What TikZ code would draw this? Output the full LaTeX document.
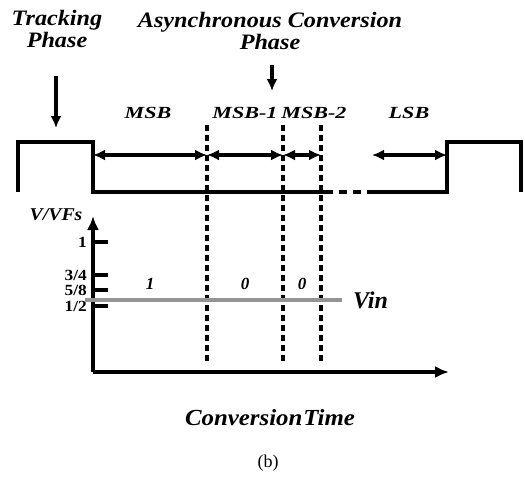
\documentclass[tikz,border=0pt]{standalone}
\usepackage{fontspec}
\setmainfont{Liberation Serif}
\newfontfamily\wideA[FakeStretch=1.1]{Liberation Serif}
\newfontfamily\wideB[FakeStretch=1.3]{Liberation Serif}
\newfontfamily\wideC[FakeStretch=1.08]{Liberation Serif}
\newfontfamily\wideD[FakeStretch=1.12]{Liberation Serif}
\usetikzlibrary{arrows.meta,positioning}
\tikzset{
  ttl/.style  = {font=\wideA\fontsize{22}{22}\selectfont\bfseries\itshape, align=center, inner sep=0pt},
  bitn/.style = {font=\wideB\fontsize{17}{18}\selectfont\bfseries\itshape, inner sep=0pt},
  tick/.style = {font=\wideD\fontsize{15.5}{14}\selectfont\bfseries, anchor=east, inner sep=0pt},
  val/.style  = {font=\fontsize{17}{18}\selectfont\bfseries\itshape, inner sep=0pt},
  wave/.style = {line width=3.4pt},
  ar/.style   = {{Latex[length=12pt,width=11pt]}-{Latex[length=12pt,width=11pt]}, line width=3.2pt},
  dn/.style   = {-{Latex[length=12pt,width=11pt]}, line width=3.2pt},
  ax/.style   = {-{Latex[length=14pt,width=12pt]}, line width=3.4pt},
  sep/.style  = {line width=3.4pt, dash pattern=on 6pt off 4pt},
  vin/.style  = {line width=3.5pt, black!42}
}
\begin{document}
\begin{tikzpicture}[x=1pt,y=-1pt]
  \useasboundingbox (0,0) rectangle (525,477);
  % titles
  \node[ttl] (trk)   at (57,29)  {Tracking\\Phase};
  \node[ttl] (async) at (270,31) {Asynchronous Conversion\\Phase};
  \coordinate (trkA) at (56,76);
  \coordinate (trkB) at (56,128);
  \coordinate (asyA) at (272,65);
  \coordinate (asyB) at (272,91);
  \draw[dn] (trkA) -- (trkB);
  \draw[dn] (asyA) -- (asyB);
  % waveform
  \coordinate (w0) at (18,192);
  \coordinate (w1) at (18,142);
  \coordinate (w2) at (93,142);
  \coordinate (w3) at (93,192);
  \coordinate (w4) at (325,192);
  \coordinate (w5) at (370,192);
  \coordinate (w6) at (447,192);
  \coordinate (w7) at (447,142);
  \coordinate (w8) at (521,142);
  \coordinate (w9) at (521,192);
  \draw[wave] (w0) -- (w1) -- (w2) -- (w3) -- (w4);
  \draw[wave, dash pattern=on 8pt off 6pt] (w4) -- (w5);
  \draw[wave] (w5) -- (w6) -- (w7) -- (w8) -- (w9);
  % bit intervals
  \coordinate (s0) at (93,155);
  \coordinate (s1) at (207,155);
  \coordinate (s2) at (283,155);
  \coordinate (s3) at (321,155);
  \coordinate (s4) at (372,155);
  \coordinate (s5) at (447,155);
  \draw[ar] (s0) -- (s1);
  \draw[ar] (s1) -- (s2);
  \draw[ar] (s2) -- (s3);
  \draw[ar] (s4) -- (s5);
  \node[bitn] (msb)  at (148,113) {MSB};
  \node[bitn] (msb1) at (245,113) {MSB-1};
  \node[bitn] (msb2) at (314,113) {MSB-2};
  \node[bitn] (lsb)  at (409,113) {LSB};
  \foreach \x in {207,283,321}
    \draw[sep] (\x,125) -- (\x,364);
  % axes
  \coordinate (org) at (93,372);
  \coordinate (ytip) at (93,216);
  \coordinate (xtip) at (449,372);
  \draw[ax] (org) -- (ytip);
  \draw[ax] (org) -- (xtip);
  \node[font=\wideA\fontsize{18}{18}\selectfont\bfseries\itshape, inner sep=0pt] (vvfs) at (56,215) {V/VFs};
  \foreach \y/\t in {242/{1}, 275/{3/4}, 290/{5/8}, 306/{1/2}} {
    \draw[line width=3.4pt] (92,\y) -- (108,\y);
    \node[tick] at (87,\y) {\t};
  }
  % input level
  \coordinate (vinA) at (85,300);
  \coordinate (vinB) at (342,300);
  \draw[vin] (vinA) -- (vinB);
  \node[font=\fontsize{24}{25}\selectfont\bfseries\itshape, inner sep=0pt, anchor=west] (vin) at (353,300) {Vin};
  \node[val] (b1) at (150,284) {1};
  \node[val] (b2) at (245,284) {0};
  \node[val] (b3) at (302,284) {0};
  \node[font=\wideC\fontsize{23}{24}\selectfont\bfseries\itshape, inner sep=0pt] (ct) at (270,418) {Conversion\kern1pt Time};
  \node[font=\fontsize{18}{18}\selectfont, inner sep=0pt] (cap) at (268,463) {(b)};
\end{tikzpicture}
\end{document}
